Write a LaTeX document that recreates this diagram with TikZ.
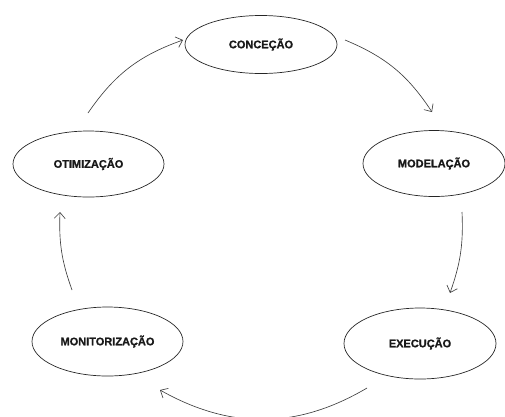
\documentclass[tikz,border=0pt]{standalone}
\usepackage{fontspec}
\setmainfont{Liberation Sans}[BoldFeatures={FakeBold=1.2}]
\usetikzlibrary{shapes.geometric,arrows.meta}
\tikzset{
  phase/.style={draw=black!85, line width=0.7pt, ellipse, inner sep=0pt,
    font=\fontsize{11pt}{13pt}\selectfont\bfseries, text=black!90},
  cycarrow/.style={draw=black!75, line width=0.65pt,
    -{Straight Barb[length=6pt,width=11pt,line width=0.65pt]}}
}
\begin{document}
\begin{tikzpicture}[x=1pt,y=-1pt]
\useasboundingbox (0,0) rectangle (505,416);
% nodes
\node[phase, minimum width=152pt, minimum height=58pt] (conc) at (261,44.5) {CONCEÇÃO};
\node[phase, minimum width=142pt, minimum height=66pt] (mod) at (434,163.5) {MODELAÇÃO};
\node[phase, minimum width=151pt, minimum height=66pt] (otim) at (88.5,164) {OTIMIZAÇÃO};
\node[phase, minimum width=151pt, minimum height=69pt] (mon) at (107.5,341.5) {MONITORIZAÇÃO};
\node[phase, minimum width=152pt, minimum height=71pt] (exec) at (420,343.5) {EXECUÇÃO};
% arrow end points
\coordinate (a1s) at (88,113);
\coordinate (a1e) at (183,40);
\coordinate (a2s) at (345,40);
\coordinate (a2e) at (432,112);
\coordinate (a3s) at (462,212);
\coordinate (a3e) at (450,293);
\coordinate (a4s) at (367,388);
\coordinate (a4e) at (160,390);
\coordinate (a5s) at (72,290);
\coordinate (a5e) at (60,212);
% connectors
\draw[cycarrow] (a1s) to[bend left=18] (a1e);
\draw[cycarrow] (a2s) to[bend left=17] (a2e);
\draw[cycarrow] (a3s) to[bend left=11] (a3e);
\draw[cycarrow] (a4s) to[bend left=30] (a4e);
\draw[cycarrow] (a5s) to[bend left=11] (a5e);
\end{tikzpicture}
\end{document}
